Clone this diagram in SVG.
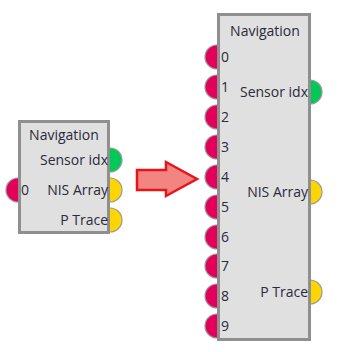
<svg xmlns="http://www.w3.org/2000/svg" width="340" height="352" viewBox="0 0 340 352">
<style>
.box{fill:#e0e0e0;stroke:#8f8f8f;stroke-width:3}
.pin{stroke:#999;stroke-width:1.2}
.r{fill:#e2005a}
.g{fill:#00c958}
.y{fill:#ffd500}
text{font-family:"Open Sans","Liberation Sans",sans-serif;font-size:14px;fill:#2a2a3a}
.t{text-anchor:middle}
.e{text-anchor:end}
</style>
<g id="node-left">
<circle class="pin r" cx="18" cy="190" r="12"/>
<circle class="pin g" cx="110" cy="160" r="12"/>
<circle class="pin y" cx="110" cy="190" r="12"/>
<circle class="pin y" cx="110" cy="220" r="12"/>
<rect class="box" x="19.5" y="121.5" width="89" height="111"/>
<text class="t" x="64" y="140">Navigation</text>
<text class="e" x="108" y="165">Sensor idx</text>
<text class="e" x="108" y="195">NIS Array</text>
<text class="e" x="108" y="225">P Trace</text>
<text x="21" y="195">0</text>
</g>
<g id="node-right">
<circle class="pin r" cx="217" cy="57" r="12"/>
<circle class="pin r" cx="217" cy="87" r="12"/>
<circle class="pin r" cx="217" cy="117" r="12"/>
<circle class="pin r" cx="217" cy="147" r="12"/>
<circle class="pin r" cx="217" cy="177" r="12"/>
<circle class="pin r" cx="217" cy="207" r="12"/>
<circle class="pin r" cx="217" cy="237" r="12"/>
<circle class="pin r" cx="217" cy="266" r="12"/>
<circle class="pin r" cx="217" cy="296" r="12"/>
<circle class="pin r" cx="217" cy="326" r="12"/>
<circle class="pin g" cx="310" cy="92" r="12"/>
<circle class="pin y" cx="310" cy="192" r="12"/>
<circle class="pin y" cx="310" cy="292" r="12"/>
<rect class="box" x="218.5" y="14.5" width="91" height="325"/>
<text class="t" x="265" y="36">Navigation</text>
<text x="221" y="62">0</text>
<text x="221" y="92">1</text>
<text x="221" y="122">2</text>
<text x="221" y="152">3</text>
<text x="221" y="182">4</text>
<text x="221" y="212">5</text>
<text x="221" y="242">6</text>
<text x="221" y="271">7</text>
<text x="221" y="301">8</text>
<text x="221" y="331">9</text>
<text class="e" x="308" y="97">Sensor idx</text>
<text class="e" x="308" y="197">NIS Array</text>
<text class="e" x="308" y="297">P Trace</text>
</g>
<g id="connectors">
<polygon points="137,170 166,170 166,162 197,179 166,196 166,190 137,190" fill="#f28482" stroke="#e8141c" stroke-width="2.5"/>
</g>
</svg>
